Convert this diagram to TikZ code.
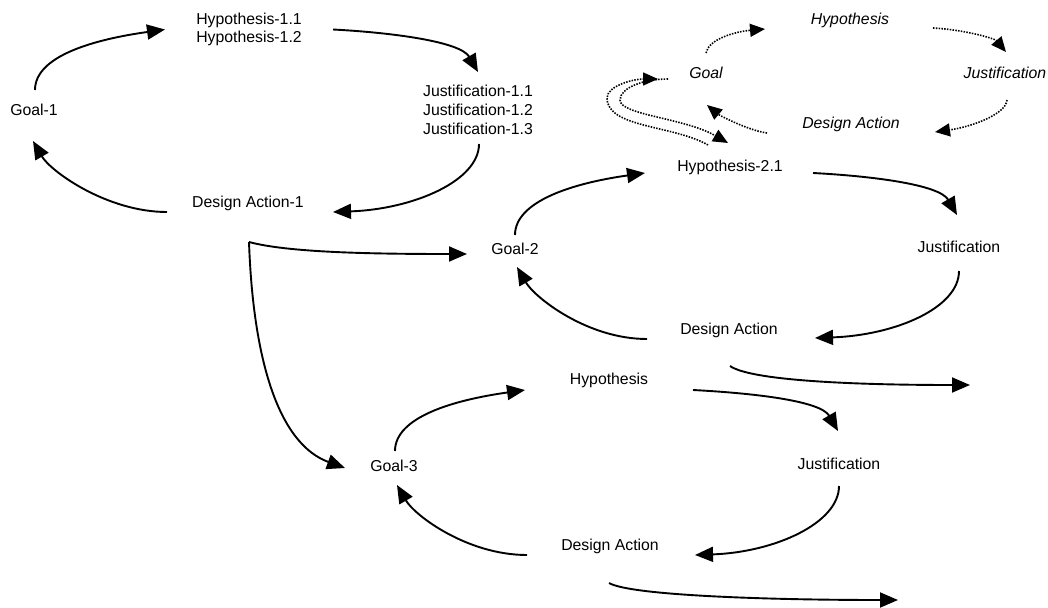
\documentclass[tikz,border=0pt]{standalone}
\usepackage{fontspec}
\setmainfont{Liberation Sans}
\usetikzlibrary{arrows.meta,calc}
\begin{document}
\begin{tikzpicture}[x=1pt,y=1pt,
  lbl/.style={inner sep=0pt, align=center, font=\fontsize{15.8}{18.7}\selectfont},
  ilbl/.style={inner sep=0pt, align=center, font=\fontsize{15.8}{18.7}\selectfont\itshape},
  conn/.style={line width=1.9pt, -{Triangle[length=18pt,width=15pt]}},
  dconn/.style={line width=1.6pt, dash pattern=on 1.5pt off 1.3pt, -{Triangle[length=15pt,width=13pt]}},
  gh/.style={out=90,in=188,out distance=34pt,in distance=72pt},
  hj/.style={out=-3,in=120,out distance=60pt,in distance=35pt},
  jd/.style={out=-90,in=2,out distance=37pt,in distance=80pt},
  dg/.style={out=180,in=-60,out distance=60pt,in distance=35pt}
]
\fill[white] (0,0) rectangle (1048,-607);
\useasboundingbox (0,0) rectangle (1048,-607);

% cycle 1
\node[lbl] (g1) at (34,-110) {Goal-1};
\node[lbl] (h1) at (249,-29.5) {Hypothesis-1.1\\Hypothesis-1.2};
\node[lbl] (j1) at (478,-110) {Justification-1.1\\Justification-1.2\\Justification-1.3};
\node[lbl] (da1) at (248,-203) {Design Action-1};
% cycle 2
\node[lbl] (g2) at (515,-249) {Goal-2};
\node[lbl] (h2) at (730,-167) {Hypothesis-2.1};
\node[lbl] (j2) at (959,-247) {Justification};
\node[lbl] (da2) at (729,-330) {Design Action};
% cycle 3
\node[lbl] (g3) at (394,-466) {Goal-3};
\node[lbl] (h3) at (609,-380) {Hypothesis};
\node[lbl] (j3) at (839,-464) {Justification};
\node[lbl] (da3) at (610,-546) {Design Action};
% detailed (italic) cycle
\node[ilbl] (ig) at (706,-73) {Goal};
\node[ilbl] (ih) at (850,-20) {Hypothesis};
\node[ilbl] (ij) at (1005,-73) {Justification};
\node[ilbl] (ida) at (851,-124) {Design Action};

\coordinate (out2) at (970,-385);
\coordinate (out3) at (898,-600);
\coordinate (loopA) at (607,-98);
\coordinate (loopB) at (620,-100);

% cycle 1 arrows
\draw[conn] ($(g1)+(1,20)$) to[gh] ($(h1)+(-84,0)$);
\draw[conn] ($(h1)+(84,0)$) to[hj] ($(j1)+(0,38)$);
\draw[conn] ($(j1)+(1,-34)$) to[jd] ($(da1)+(85,-9)$);
\draw[conn] ($(da1)+(-81,-9)$) to[dg] ($(g1)+(-1,-31)$);
% branches from Design Action-1
\draw[conn] ($(da1)+(1,-39)$) to[out=-15,in=180,out distance=40pt,in distance=100pt] ($(g2)+(-48,-5)$);
\draw[conn] ($(da1)+(1,-39)$) to[out=-88,in=160,out distance=120pt,in distance=70pt] ($(g3)+(-49,-2)$);
% cycle 2 arrows
\draw[conn] ($(g2)+(0,14)$) to[gh] ($(h2)+(-85,-6)$);
\draw[conn] ($(h2)+(83,-6)$) to[hj] ($(j2)+(-2,32)$);
\draw[conn] ($(j2)+(0,-24)$) to[jd] ($(da2)+(86,-8)$);
\draw[conn] ($(da2)+(-82,-9)$) to[dg] ($(g2)+(2,-18)$);
\draw[conn] ($(da2)+(1,-36)$) to[out=-35,in=180,out distance=25pt,in distance=120pt] (out2);
% cycle 3 arrows
\draw[conn] ($(g3)+(1,15)$) to[gh] ($(h3)+(-84,-10)$);
\draw[conn] ($(h3)+(84,-10)$) to[hj] ($(j3)+(-1,33)$);
\draw[conn] ($(j3)+(0,-22)$) to[jd] ($(da3)+(85,-9)$);
\draw[conn] ($(da3)+(-83,-9)$) to[dg] ($(g3)+(3,-19)$);
\draw[conn] ($(da3)+(-1,-37)$) to[out=-30,in=180,out distance=25pt,in distance=130pt] (out3);
% dotted cycle
\draw[dconn] ($(ig)+(0,20)$) to[out=80,in=185,out distance=14pt,in distance=30pt] ($(ih)+(-85,-9)$);
\draw[dconn] ($(ih)+(83,-8)$) to[out=-3,in=130,out distance=30pt,in distance=18pt] ($(ij)+(1,21)$);
\draw[dconn] ($(ij)+(2,-27)$) to[out=-95,in=8,out distance=15pt,in distance=35pt] ($(ida)+(84,-8)$);
\draw[dconn] ($(ida)+(-84,-9)$) to[out=172,in=-40,out distance=20pt,in distance=15pt] ($(ig)+(1,-32)$);
% Hypothesis-2.1 <-> Goal
\draw[dconn] ($(h2)+(-22,22)$) to[out=150,in=-90,out distance=40pt,in distance=30pt] (loopA)
  to[out=90,in=180,out distance=12pt,in distance=25pt] ($(ig)+(-48,-6)$);
\draw[dconn] ($(ig)+(-38,-6)$) to[out=180,in=90,out distance=25pt,in distance=12pt] (loopB)
  to[out=-90,in=150,out distance=15pt,in distance=50pt] ($(h2)+(-2,24)$);
\end{tikzpicture}
\end{document}
